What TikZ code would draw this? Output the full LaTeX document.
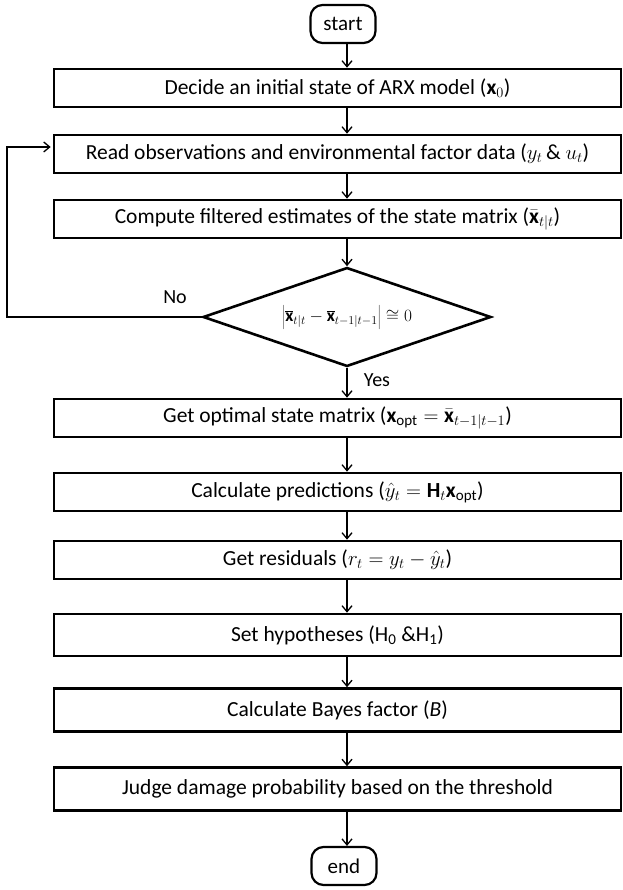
\documentclass[tikz,border=0pt]{standalone}
\usepackage{fontspec}
\setmainfont{Carlito}
\usetikzlibrary{arrows.meta,shapes.geometric,calc}
\begin{document}
\begin{tikzpicture}[x=1pt,y=-1pt,
  proc/.style={draw, line width=2.6pt, minimum width=567pt, minimum height=38pt, inner sep=0pt, font=\fontsize{21.5}{24}\selectfont},
  term/.style={draw, line width=2.2pt, rounded corners=12pt, minimum width=65pt, minimum height=38pt, inner sep=0pt, font=\fontsize{21}{24}\selectfont},
  dec/.style={draw, diamond, aspect=2.9, line width=2.6pt, minimum width=288pt, minimum height=99pt, inner sep=0pt, font=\fontsize{17.5}{20}\selectfont},
  lbl/.style={font=\fontsize{20}{23}\selectfont},
  arr/.style={line width=1.3pt, -{Straight Barb[length=6pt,width=10pt,line width=1.3pt]}}]
\useasboundingbox (0,0) rectangle (622,890);
\node[term] (start) at (343,24) {start};
\node[proc] (b1) at (337.5,88) {Decide an initial state of ARX model ($\mathbf{x}_0$)};
\node[proc] (b2) at (337.5,154) {Read observations and environmental factor data ($y_t$\,\& $u_t$)};
\node[proc] (b3) at (337.5,219) {Compute filtered estimates of the state matrix ($\bar{\mathbf{x}}_{t|t}$)};
\node[dec] (d) at (347,317) {$\left|\overline{\mathbf{x}}_{t|t}-\overline{\mathbf{x}}_{t-1|t-1}\right|\cong 0$};
\node[proc] (b4) at (337.5,418) {Get optimal state matrix ($\mathbf{x}_{\mathrm{opt}}=\bar{\mathbf{x}}_{t-1|t-1}$)};
\node[proc] (b5) at (337.5,492) {Calculate predictions ($\hat{y}_t=\mathbf{H}_t\mathbf{x}_{\mathrm{opt}}$)};
\node[proc] (b6) at (337.5,560) {Get residuals ($r_t=y_t-\hat{y}_t$)};
\node[proc, minimum height=42pt] (b7) at (337.5,635) {Set hypotheses (H\textsubscript{0} \&H\textsubscript{1})};
\node[proc, minimum height=43pt] (b8) at (337.5,710) {Calculate Bayes factor (\textit{B})};
\node[proc, minimum height=43pt] (b9) at (337.5,789) {Judge damage probability based on the threshold};
\node[term] (end) at (344,866) {end};
\node[lbl] (no) at (175,297) {No};
\node[lbl] (yes) at (377,380) {Yes};
\coordinate (lx) at (7,0);
\draw[arr] (start.south -| d.north) -- (b1.north -| d.north);
\draw[arr] (b1.south -| d.north) -- (b2.north -| d.north);
\draw[arr] (b2.south -| d.north) -- (b3.north -| d.north);
\draw[arr] (b3.south -| d.north) -- (d.north);
\draw[arr] (d.south) -- (b4.north -| d.south);
\draw[arr] (b4.south -| d.north) -- (b5.north -| d.north);
\draw[arr] (b5.south -| d.north) -- (b6.north -| d.north);
\draw[arr] (b6.south -| d.north) -- (b7.north -| d.north);
\draw[arr] (b7.south -| d.north) -- (b8.north -| d.north);
\draw[arr] (b8.south -| d.north) -- (b9.north -| d.north);
\draw[arr] (b9.south -| d.north) -- (end.north -| d.north);
\draw[arr] (d.west) -- (d.west -| lx) -- ([yshift=7pt]b2.west -| lx) -- ([yshift=7pt,xshift=-2pt]b2.west);
\end{tikzpicture}
\end{document}
